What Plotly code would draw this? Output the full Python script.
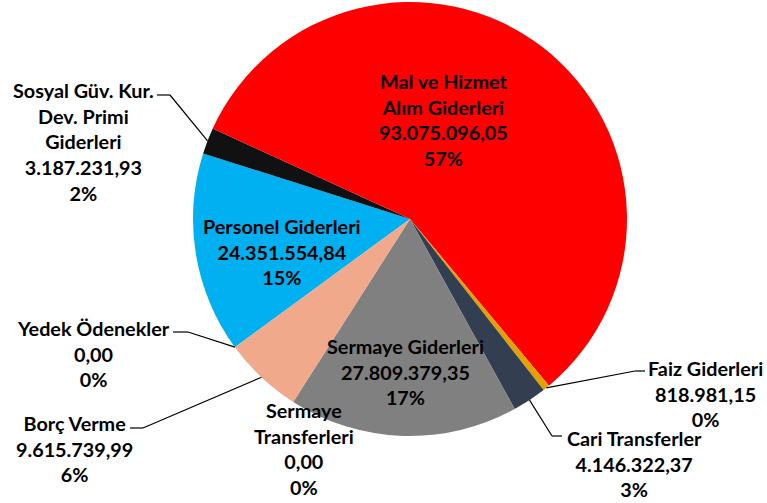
import math
import plotly.graph_objects as go

# ---------------- data ----------------
categories = ["Personel Giderleri", "Sosyal Güv. Kur. Dev. Primi Giderleri",
              "Mal ve Hizmet Alım Giderleri", "Faiz Giderleri", "Cari Transferler",
              "Sermaye Giderleri", "Sermaye Transferleri", "Borç Verme", "Yedek Ödenekler"]
label_text = ["Personel Giderleri", "Sosyal Güv. Kur.<br>Dev. Primi<br>Giderleri",
              "Mal ve Hizmet<br>Alım Giderleri", "Faiz Giderleri", "Cari Transferler",
              "Sermaye Giderleri", "Sermaye<br>Transferleri", "Borç Verme", "Yedek Ödenekler"]
values = [24351554.84, 3187231.93, 93075096.05, 818981.15, 4146322.37,
          27809379.35, 0.00, 9615739.99, 0.00]
percent_labels = ["15%", "2%", "57%", "0%", "3%", "17%", "0%", "6%", "0%"]
colors = ["#00B0F0", "#111111", "#FF0000", "#E2A300", "#333F50",
          "#808080", "#A5A5A5", "#F0A98A", "#FFC000"]

# ---------------- layout constants ----------------
W, H = 767, 503
CX, CY, R = 410, 219, 217
ROTATION = 233.8
FONT = "Lato, 'Open Sans', sans-serif"
FS = 19.8

# label block centres (pixels)
label_pos = {
    0: (282, 251),
    1: (83, 141),
    2: (443, 120),
    3: (705, 393),
    4: (634, 463),
    5: (406, 371),
    6: (304, 448),
    7: (74, 448),
    8: (93, 353),
}
# leader lines: index -> (text end, elbow)
leaders = {
    1: ((157, 95), (170, 95)),
    8: ((173, 332), (188, 332)),
    7: ((130, 428), (143, 428)),
    3: ((645, 371), (635, 371)),
    4: ((562, 436), (552, 436)),
}


def px(x):
    return x / W


def py(y):
    return 1 - y / H


def tr_fmt(v):
    s = f"{v:,.2f}"
    return s.replace(",", "X").replace(".", ",").replace("X", ".")


fig = go.Figure(go.Pie(
    labels=categories,
    values=values,
    sort=False,
    direction="clockwise",
    rotation=ROTATION,
    marker=dict(colors=colors, line=dict(width=0)),
    textinfo="none",
    hoverinfo="label+value+percent",
    showlegend=False,
    domain=dict(x=[px(CX - R), px(CX + R)], y=[py(CY + R), py(CY - R)]),
))

total = sum(values)
annotations = []
shapes = []
cum = 0.0
for i, v in enumerate(values):
    start = ROTATION + cum / total * 360
    cum += v
    end = ROTATION + cum / total * 360
    mid = math.radians((start + end) / 2)
    lx, ly = label_pos[i]
    annotations.append(dict(
        x=px(lx), y=py(ly), xref="paper", yref="paper",
        text=f"<b>{label_text[i]}<br>{tr_fmt(v)}<br>{percent_labels[i]}</b>",
        showarrow=False, xanchor="center", yanchor="middle", align="center",
        font=dict(family=FONT, size=FS, color="#000000"),
    ))
    if i in leaders:
        (tx, ty), (ex, ey) = leaders[i]
        sx = CX + R * math.sin(mid)
        sy = CY - R * math.cos(mid)
        for (a, b), (c, d) in [((tx, ty), (ex, ey)), ((ex, ey), (sx, sy))]:
            shapes.append(dict(type="line", xref="paper", yref="paper",
                               x0=px(a), y0=py(b), x1=px(c), y1=py(d),
                               line=dict(color="#000000", width=1.2)))

fig.update_layout(
    width=W, height=H,
    margin=dict(l=0, r=0, t=0, b=0),
    paper_bgcolor="white", plot_bgcolor="white",
    annotations=annotations, shapes=shapes,
)

fig.write_html("out.html",
               config={"displayModeBar": False},
               post_script="document.body.style.margin='0';document.body.style.overflow='hidden';")
